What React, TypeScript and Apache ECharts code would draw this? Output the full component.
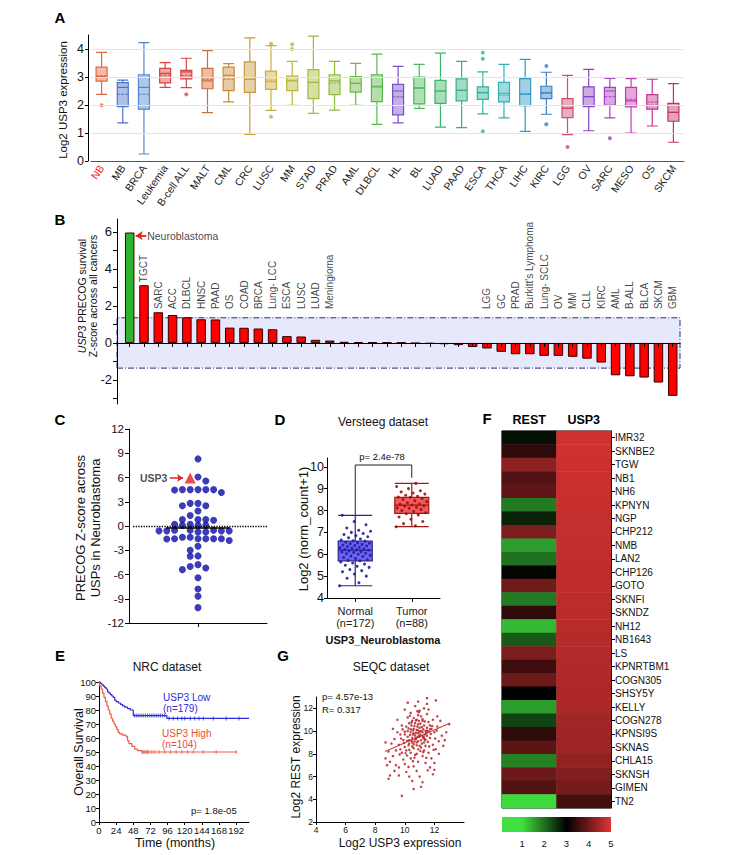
import React, { useEffect, useRef } from 'react';
import * as echarts from 'echarts';

const FONT = '"Liberation Sans", Arial, Helvetica, sans-serif';

// ---------------- Panel A : USP3 expression across cancers ----------------
const aCategories = ['NB', 'MB', 'BRCA', 'Leukemia', 'B-cell ALL', 'MALT', 'CML', 'CRC', 'LUSC', 'MM', 'STAD', 'PRAD', 'AML', 'DLBCL', 'HL', 'BL', 'LUAD', 'PAAD', 'ESCA', 'THCA', 'LIHC', 'KIRC', 'LGG', 'OV', 'SARC', 'MESO', 'OS', 'SKCM'];
// [min, Q1, median, Q3, max]
const aBoxes = [
  [2.38, 2.85, 3.01, 3.35, 3.88], [1.36, 1.94, 2.63, 2.8, 2.89], [0.25, 1.85, 2.63, 3.08, 4.23],
  [2.63, 2.79, 3.13, 3.31, 3.51], [2.62, 2.93, 3.18, 3.24, 3.67], [1.73, 2.58, 2.86, 3.31, 3.94],
  [2.11, 2.51, 3.06, 3.35, 3.48], [0.95, 2.45, 2.92, 3.54, 4.4], [1.81, 2.56, 2.83, 3.21, 4.12],
  [1.99, 2.51, 2.86, 3.03, 3.56], [1.7, 2.23, 2.81, 3.26, 4.46], [1.82, 2.37, 2.86, 3.08, 3.56],
  [1.99, 2.46, 2.77, 3.01, 3.49], [1.31, 2.12, 2.65, 3.08, 3.82], [1.36, 1.65, 2.5, 2.74, 3.38],
  [1.88, 2.04, 2.6, 3.0, 3.45], [1.21, 2.06, 2.5, 2.88, 3.85], [1.19, 2.15, 2.52, 2.93, 3.56],
  [1.68, 2.2, 2.43, 2.65, 3.18], [1.54, 2.11, 2.42, 2.81, 3.45], [1.06, 1.98, 2.39, 2.94, 3.63],
  [1.67, 2.23, 2.43, 2.67, 3.17], [0.94, 1.55, 1.88, 2.23, 3.06], [1.08, 1.94, 2.3, 2.65, 3.27],
  [1.54, 1.99, 2.5, 2.63, 2.95], [1.0, 1.93, 2.15, 2.63, 2.94], [1.25, 1.85, 1.99, 2.37, 2.92],
  [0.67, 1.42, 1.74, 2.06, 2.76],
];
const aMeans = [3.05, 2.38, 2.38, 3.07, 3.06, 2.92, 2.92, 2.92, 2.89, 2.88, 2.81, 2.78, 2.77, 2.67, 2.29, 2.62, 2.5, 2.52, 2.45, 2.35, 2.4, 2.43, 1.9, 2.3, 2.3, 2.2, 2.1, 1.74];
const aOutliers = [[0, 1.99], [4, 2.38], [8, 4.19], [8, 1.58], [9, 4.17], [9, 4.0], [18, 3.87], [18, 3.65], [18, 1.06], [21, 3.39], [21, 1.31], [22, 0.5], [24, 0.81]];
const aColors = ['#e2673f', '#4d73c9', '#4f86cf', '#d9443f', '#d64545', '#cf6f35', '#c88938', '#c99a3a', '#c8ae3c', '#b9b534', '#a9b93a', '#8fba3e', '#6cb840', '#58b84a', '#7a4fc7', '#4cb85a', '#3fb36b', '#35b083', '#31b39b', '#2fb0b5', '#3399c4', '#3b7fc0', '#cc4f72', '#8a44c4', '#a640c4', '#c13eb0', '#c23592', '#c23460'];
const aYTicks = [0, 1, 2, 3, 4];

// ---------------- Panel B : PRECOG z-scores ----------------
const bCancers = ['Neuroblastoma', 'TGCT', 'SARC', 'ACC', 'DLBCL', 'HNSC', 'PAAD', 'OS', 'COAD', 'BRCA', 'Lung- LCC', 'ESCA', 'LUSC', 'LUAD', 'Meningioma', '', '', '', '', '', '', '', '', '', '', 'LGG', 'GC', 'PRAD', "Burkitt's Lymphoma", 'Lung- SCLC', 'OV', 'MM', 'CLL', 'KIRC', 'AML', 'B-ALL', 'BLCA', 'SKCM', 'GBM'];
const bZ = [5.97, 3.12, 1.66, 1.51, 1.39, 1.28, 1.27, 0.83, 0.82, 0.78, 0.74, 0.37, 0.35, 0.17, 0.13, 0.06, 0.05, 0.04, 0.03, 0.02, -0.02, -0.04, -0.07, -0.12, -0.22, -0.3, -0.48, -0.61, -0.61, -0.7, -0.7, -0.75, -0.85, -1.06, -1.75, -1.8, -1.87, -2.14, -2.86];
const bBand = 1.36;
const bYTicks = [-2, 0, 2, 4, 6];
const bYMinor = [-3, -2, -1, 0, 1, 2, 3, 4, 5, 6];

// ---------------- Panel C : USP z-scores in neuroblastoma ----------------
const cUspZ = [8.3, 6.06, 5.57, 4.5, 4.45, 4.15, 4.5, 4.5, 4.5, 4.5, 2.8, 2.8, 2.5, 2.5, 1.86, 1.3, 0.79, 0.7, 0.79, 0.79, 0.2, 0.2, 0.08, 0.08, 0.08, -0.53, -0.53, -0.53, -0.74, -0.74, -0.6, -0.6, -0.6, -0.6, -1.57, -1.57, -1.57, -1.57, -1.57, -1.8, -1.4, -1.4, -1.6, -2.5, -3.0, -3.75, -3.7, -4.78, -5.4, -5.2, -5.0, -6.4, -7.8, -8.7, -10.1];
const cUsp3Z = 5.95;
const cMedian = -0.25;

// ---------------- Panel D : Versteeg dataset ----------------
const dGroups = ['Normal\n(n=172)', 'Tumor\n(n=88)'];
const dBoxes = [[4.56, 5.7, 6.19, 6.6, 7.78], [7.26, 7.87, 8.25, 8.6, 9.24]];
const dNormal = [4.56, 4.7, 4.9, 5.0, 5.1, 5.2, 5.25, 5.3, 5.4, 5.45, 5.5, 5.55, 5.6, 5.65, 5.7, 5.72, 5.75, 5.8, 5.85, 5.9, 5.92, 5.95, 6.0, 6.02, 6.05, 6.08, 6.1, 6.12, 6.15, 6.18, 6.2, 6.22, 6.25, 6.28, 6.3, 6.32, 6.35, 6.38, 6.4, 6.42, 6.45, 6.48, 6.5, 6.52, 6.55, 6.6, 6.62, 6.65, 6.7, 6.75, 6.8, 6.85, 6.9, 6.95, 7.0, 7.05, 7.1, 7.2, 7.35, 7.5, 7.78];
const dTumor = [7.26, 7.3, 7.4, 7.5, 7.6, 7.7, 7.8, 7.85, 7.9, 7.95, 8.0, 8.05, 8.1, 8.12, 8.15, 8.2, 8.22, 8.25, 8.28, 8.3, 8.35, 8.4, 8.45, 8.5, 8.55, 8.6, 8.62, 8.65, 8.7, 8.75, 8.8, 8.85, 8.9, 9.0, 9.1, 9.24];
const dBracket = [[0, 7.8], [0, 10.08], [1, 10.08], [1, 9.5]];
const dYTicks = [4, 5, 6, 7, 8, 9, 10];

// ---------------- Panel E : NRC survival ----------------
const eLow = [[0, 100], [2, 99], [4, 98], [6, 97], [8, 96], [10, 95], [12, 93], [14, 92], [16, 91], [18, 90], [20, 89], [22, 87], [24, 86], [27, 85], [30, 84], [33, 83], [36, 82], [40, 81], [44, 80], [48, 76], [95, 74], [210, 74]];
const eHigh = [[0, 100], [1, 97], [3, 95], [5, 92], [7, 89], [9, 86], [11, 83], [13, 80], [15, 77], [17, 74], [19, 72], [21, 70], [23, 68], [25, 66], [27, 64], [29, 63], [33, 62], [38, 61], [40, 58], [42, 56], [46, 54], [50, 52], [54, 51], [60, 50], [193, 50]];
const eLowCensor = [50, 53, 56, 59, 62, 65, 68, 71, 74, 77, 80, 83, 86, 89, 92, 98, 104, 110, 116, 120, 128, 134, 140, 146, 160, 178, 196];
const eHighCensor = [60, 62, 64, 66, 68, 70, 74, 78, 84, 92, 100, 108, 116, 124, 132, 146, 164, 192];
const eXTicks = [0, 24, 48, 72, 96, 120, 144, 168, 192];

// ---------------- Panel G : SEQC correlation ----------------
const gPoints = [
  [10.8, 10.1], [10.9, 9.8], [11.0, 10.3], [10.7, 9.6], [11.2, 9.9], [10.5, 9.4], [11.3, 10.5], [10.6, 10.2], [11.1, 9.2], [10.4, 9.9],
  [10.9, 10.6], [11.4, 10.0], [10.3, 8.9], [11.0, 8.7], [10.6, 8.5], [11.5, 9.6], [10.2, 9.5], [10.8, 11.0], [11.6, 10.8], [10.1, 10.4],
  [11.3, 8.3], [10.7, 7.9], [10.0, 8.6], [11.7, 9.4], [10.5, 10.9], [11.1, 11.3], [10.4, 7.6], [11.8, 10.2], [9.9, 9.2], [10.3, 10.7],
  [11.9, 8.8], [10.9, 7.3], [9.8, 8.1], [11.5, 11.5], [10.2, 11.2], [12.0, 9.9], [9.7, 9.7], [11.2, 7.8], [10.6, 6.9], [11.6, 8.1],
  [9.6, 8.8], [12.2, 10.4], [10.0, 7.1], [11.0, 11.8], [9.5, 9.9], [11.4, 7.2], [10.8, 6.5], [12.1, 8.4], [9.4, 8.3], [10.4, 11.6],
  [11.8, 7.6], [9.3, 9.3], [10.1, 6.4], [12.3, 9.1], [9.9, 7.5], [11.3, 12.0], [10.7, 12.2], [9.2, 7.8], [11.0, 6.0], [12.4, 10.9],
  [9.1, 8.9], [10.3, 6.0], [11.7, 6.8], [9.0, 7.3], [12.5, 9.6], [9.6, 6.8], [10.5, 5.6], [11.5, 12.4], [8.9, 8.2], [12.0, 7.2],
  [9.8, 10.5], [10.9, 12.6], [9.3, 6.5], [12.6, 8.7], [8.8, 7.0], [11.2, 5.5], [10.2, 12.5], [12.2, 11.3], [9.5, 11.0], [8.7, 7.6],
  [11.9, 6.2], [9.2, 10.2], [12.8, 9.9], [9.0, 6.1], [10.6, 4.9], [12.7, 9.2], [8.9, 5.8], [9.8, 4.3], [11.1, 5.1], [11.5, 12.9],
  [12.1, 12.7], [12.0, 6.6], [9.6, 6.1], [8.7, 9.0], [13.0, 10.6], [10.0, 11.9], [11.6, 11.9], [9.4, 7.0], [10.8, 8.0], [11.3, 9.0],
  [10.5, 9.0], [10.1, 8.3], [11.7, 10.5], [10.9, 8.4], [11.4, 8.7], [10.2, 10.0], [10.7, 10.7], [11.2, 10.9], [10.4, 8.1], [11.0, 9.5],
  [10.6, 9.8], [11.1, 10.0], [10.3, 9.2], [11.5, 10.3], [10.8, 9.0], [10.0, 9.7], [11.9, 11.0], [10.9, 11.4], [9.7, 8.4], [12.3, 8.0],
  [10.75, 9.3], [11.05, 9.7], [10.45, 10.5], [11.25, 9.4], [10.65, 9.1], [10.95, 10.9], [11.35, 9.7], [10.55, 9.7], [11.15, 8.9], [10.85, 10.4],
  [10.35, 9.65], [10.65, 10.45], [10.95, 9.55], [11.25, 10.15], [10.45, 9.15], [10.75, 9.85], [11.05, 10.65], [11.35, 9.25], [10.55, 10.05], [10.85, 9.45],
  [11.15, 10.35], [11.45, 9.85], [10.25, 10.25], [10.6, 8.85], [10.9, 9.1], [11.2, 9.55], [11.5, 10.05], [10.4, 10.15], [10.7, 9.35], [11.0, 9.95],
  [11.3, 9.45], [11.6, 9.95], [10.15, 9.15], [10.5, 8.65], [10.8, 8.75], [11.1, 8.55], [11.4, 9.25], [11.7, 10.15], [10.3, 8.35], [10.6, 11.15],
  [10.9, 10.05], [11.2, 11.05], [10.0, 9.95], [11.55, 9.05], [10.75, 10.95], [11.05, 8.25], [10.45, 10.75], [11.35, 10.85], [10.25, 8.75], [11.65, 8.65],
  [10.95, 11.65], [10.55, 7.35], [11.45, 7.65], [10.15, 7.85], [11.75, 9.75], [9.95, 8.95], [12.05, 9.35], [10.35, 11.35], [11.85, 10.45], [9.85, 10.15],
  [10.65, 7.65], [11.25, 8.15], [10.05, 8.05], [11.95, 8.35], [10.85, 11.75], [9.75, 9.35], [12.15, 10.05], [10.25, 6.85], [11.55, 6.55], [9.65, 7.95],
];
const gFit = [[8.66, 8.2], [13.05, 10.7]];
const gXTicks = [4, 6, 8, 10, 12];
const gYTicks = [2, 4, 6, 8, 10, 12];

// ---------------- Panel F : heatmap ----------------
const fColumns = ['REST', 'USP3'];
const fLines = ['IMR32', 'SKNBE2', 'TGW', 'NB1', 'NH6', 'KPNYN', 'NGP', 'CHP212', 'NMB', 'LAN2', 'CHP126', 'GOTO', 'SKNFI', 'SKNDZ', 'NH12', 'NB1643', 'LS', 'KPNRTBM1', 'COGN305', 'SHSY5Y', 'KELLY', 'COGN278', 'KPNSI9S', 'SKNAS', 'CHLA15', 'SKNSH', 'GIMEN', 'TN2'];
const fRest = [2.85, 3.4, 4.25, 3.7, 3.85, 1.9, 2.7, 4.1, 1.6, 2.0, 2.95, 4.0, 1.9, 3.4, 1.35, 2.2, 4.1, 3.55, 3.95, 3.0, 1.6, 2.4, 3.4, 3.8, 1.85, 3.95, 3.7, 1.05];
const fUsp3 = [4.85, 4.85, 4.82, 4.8, 4.8, 4.78, 4.76, 4.75, 4.74, 4.72, 4.7, 4.7, 4.68, 4.66, 4.65, 4.63, 4.6, 4.58, 4.56, 4.55, 4.52, 4.45, 4.42, 4.38, 4.3, 4.15, 4.05, 3.6];
const fScaleTicks = [1, 2, 3, 4, 5];
const heatColors = ['#3fe03f', '#2fa82f', '#1f701f', '#0f380f', '#000000', '#3a0c0c', '#701a1a', '#a82727', '#e03434'];

// ---------------- helpers ----------------
function rgba(hex: string, a: number) {
  const n = parseInt(hex.slice(1), 16);
  return `rgba(${(n >> 16) & 255},${(n >> 8) & 255},${n & 255},${a})`;
}
function swarmCols(values: number[], pxPerUnit: number, diam: number) {
  const order = values.map((_, i) => i).sort((a, b) => values[b] - values[a]);
  const placed: { col: number; y: number }[] = [];
  const cols = new Array(values.length).fill(0);
  for (const i of order) {
    const y = values[i] * pxPerUnit;
    for (let k = 0; k < 200; k++) {
      const col = k === 0 ? 0 : k % 2 === 1 ? -(k + 1) / 2 : k / 2;
      if (!placed.some((p) => p.col === col && Math.abs(p.y - y) < diam)) {
        placed.push({ col, y });
        cols[i] = col;
        break;
      }
    }
  }
  return cols;
}
function survAt(curve: number[][], t: number) {
  let s = curve[0][1];
  for (const p of curve) if (p[0] <= t) s = p[1];
  return s;
}
const line = (onZero = false, color = '#000') => ({ show: true, onZero, lineStyle: { color, width: 1 } });
const tick = (len: number, vals?: number[]) => ({ show: true, length: len, lineStyle: { color: '#000', width: 1 }, ...(vals ? { customValues: vals } : {}) });
const lab = (size: number, extra: any = {}) => ({ show: true, fontSize: size, color: '#111', fontFamily: FONT, ...extra });
const txt = (x: number, y: number, text: string, size: number, extra: any = {}, rotation = 0) => ({
  type: 'text', x, y, rotation, silent: true,
  style: { text, fontSize: size, fontFamily: FONT, fill: '#111', align: 'center', verticalAlign: 'middle', ...extra },
});

function buildOption() {
  const grids = [
    { left: 91, top: 35, width: 593, height: 126 },
    { left: 117, top: 219, width: 563, height: 185 },
    { left: 129, top: 429, width: 138, height: 194 },
    { left: 327, top: 458, width: 113, height: 140 },
    { left: 99, top: 682, width: 150, height: 140 },
    { left: 316, top: 697, width: 148, height: 125 },
    { left: 502, top: 431, width: 109, height: 377, show: true, borderColor: '#000', borderWidth: 1 },
  ].map((g) => ({ containLabel: false, outerBoundsMode: 'none', ...g }));

  const bStep = 14.29;
  const bXMin = -(129.7 - 117) / bStep;
  const bXMax = bXMin + 563 / bStep;
  const bIdx = bZ.map((_, i) => i);

  const cAll = [...cUspZ, cUsp3Z];
  const cColsArr = swarmCols(cAll, 194 / 24, 5.6);
  const colStep = 7.8 / 138;
  const cPos = cAll.map((v, i) => [0.5 + cColsArr[i] * colStep, v]);
  const usp3Pos = cPos[cPos.length - 1];
  const cDots = cPos.slice(0, cPos.length - 1);

  const jit = (vals: number[], center: number) => vals.map((v, i) => [center + (((i * 0.618034) % 1) - 0.5) * 0.55, v]);

  const xAxis: any[] = [
    { gridIndex: 0, type: 'category', data: aCategories, boundaryGap: true, axisLine: line(false, '#555'), axisTick: { show: false }, axisLabel: lab(10.5, { interval: 0, rotate: 55, margin: 5, color: (v: string) => (v === 'NB' ? '#ee2a1b' : '#222') }), splitLine: { show: false } },
    { gridIndex: 1, type: 'value', min: bXMin, max: bXMax, z: 10, axisLine: line(true), axisTick: tick(4, bIdx), axisLabel: { show: false }, splitLine: { show: false } },
    { gridIndex: 2, type: 'value', min: 0, max: 1, axisLine: line(), axisTick: tick(4, [0.5]), axisLabel: { show: false }, splitLine: { show: false } },
    { gridIndex: 3, type: 'category', data: dGroups, boundaryGap: true, axisLine: line(), axisTick: { show: true, alignWithLabel: true, length: 4, lineStyle: { color: '#000' } }, axisLabel: lab(11, { margin: 7, lineHeight: 12, color: '#222' }), splitLine: { show: false } },
    { gridIndex: 3, type: 'value', min: -0.5, max: 1.5, show: false, position: 'top' },
    { gridIndex: 4, type: 'value', min: 0, max: 210, axisLine: line(), axisTick: tick(3, eXTicks), axisLabel: lab(9.5, { customValues: eXTicks, margin: 3 }), splitLine: { show: false } },
    { gridIndex: 5, type: 'value', min: 4, max: 14, axisLine: line(), axisTick: tick(3, gXTicks), axisLabel: lab(8.5, { customValues: gXTicks, margin: 3 }), splitLine: { show: false } },
    { gridIndex: 6, type: 'category', data: fColumns, position: 'top', boundaryGap: true, axisLine: line(), axisTick: { show: false }, axisLabel: lab(12.5, { fontWeight: 'bold', margin: 5, color: '#000' }), splitLine: { show: false } },
  ];
  const yAxis: any[] = [
    { gridIndex: 0, type: 'value', min: 0, max: 4.5, offset: 3, axisLine: line(), axisTick: tick(3, aYTicks), axisLabel: lab(12.5, { customValues: aYTicks, margin: 4 }), splitLine: { show: false } },
    { gridIndex: 1, type: 'value', min: -3.3, max: 6.7, z: 10, axisLine: line(), axisTick: tick(4, bYMinor), axisLabel: lab(13, { customValues: bYTicks, margin: 5 }), splitLine: { show: false } },
    { gridIndex: 2, type: 'value', min: -12, max: 12, interval: 3, axisLine: line(), axisTick: tick(4), axisLabel: lab(11.5, { margin: 5 }), splitLine: { show: false } },
    { gridIndex: 3, type: 'value', min: 4, max: 10.4, axisLine: line(), axisTick: tick(3, dYTicks), axisLabel: lab(12.5, { customValues: dYTicks, margin: 3 }), splitLine: { show: false } },
    { gridIndex: 4, type: 'value', min: 0, max: 100, interval: 10, axisLine: line(), axisTick: tick(3), axisLabel: lab(9.5, { margin: 3 }), splitLine: { show: false } },
    { gridIndex: 5, type: 'value', min: 2, max: 13, axisLine: line(), axisTick: tick(3, gYTicks), axisLabel: lab(8.5, { customValues: gYTicks, margin: 3 }), splitLine: { show: false } },
    { gridIndex: 6, type: 'category', data: fLines, inverse: true, position: 'right', boundaryGap: true, axisLine: line(), axisTick: { show: true, length: 4, alignWithLabel: true, lineStyle: { color: '#000' } }, axisLabel: lab(10, { interval: 0, margin: 4 }), splitLine: { show: false } },
  ];

  const red = '#e8201c';
  const series: any[] = [
    { type: 'scatter', xAxisIndex: 0, yAxisIndex: 0, data: [[0, 0]], symbolSize: 0, silent: true, z: 1,
      markLine: { silent: true, symbol: 'none', label: { show: false }, lineStyle: { color: '#e4e4e4', width: 1, type: 'solid' }, data: aYTicks.filter((v) => v > 0).map((v) => ({ yAxis: v })) } },
    { type: 'boxplot', xAxisIndex: 0, yAxisIndex: 0, boxWidth: [11, 11], z: 3,
      data: aBoxes.map((b, i) => ({ value: b, itemStyle: { color: rgba(aColors[i], 0.45), borderColor: aColors[i], borderWidth: 1.2 } })) },
    { type: 'scatter', xAxisIndex: 0, yAxisIndex: 0, z: 4, silent: true, symbol: 'path://M0,0h3v1h-3zM4.5,0h3v1h-3zM9,0h3v1h-3z', symbolSize: [10, 1.3],
      data: aMeans.map((m, i) => ({ value: [i, m], itemStyle: { color: aColors[i] } })) },
    { type: 'scatter', xAxisIndex: 0, yAxisIndex: 0, z: 4, symbolSize: 4,
      data: aOutliers.map(([i, v]) => ({ value: [i, v], itemStyle: { color: aColors[i] } })) },

    { type: 'scatter', xAxisIndex: 1, yAxisIndex: 1, data: [[0, 0]], symbolSize: 0, silent: true, z: 1,
      markArea: { silent: true, itemStyle: { color: '#e6e8fb', borderColor: '#24326e', borderWidth: 1, borderType: [6, 2, 1, 2] }, data: [[{ yAxis: -bBand }, { yAxis: bBand }]] } },
    { type: 'bar', xAxisIndex: 1, yAxisIndex: 1, barWidth: 9.5, z: 3,
      data: bZ.map((v, i) => ({ value: [i, v], itemStyle: { color: i === 0 ? '#2cb52c' : '#ff0000', borderColor: '#3a0000', borderWidth: 1 } })) },
    { type: 'scatter', xAxisIndex: 1, yAxisIndex: 1, symbolSize: 0, silent: true, z: 4,
      label: { show: true, position: 'top', distance: 3, rotate: 90, align: 'left', verticalAlign: 'middle', fontSize: 10, color: '#111', fontFamily: FONT, formatter: '{b}' },
      data: bZ.map((v, i) => ({ name: bCancers[i], value: [i, Math.max(v, 1.67)] })).filter((d, i) => i > 0 && d.name !== '') },
    { type: 'scatter', xAxisIndex: 1, yAxisIndex: 1, symbolSize: 0, silent: true, z: 4,
      label: { show: true, position: 'right', distance: 0, fontSize: 10.5, color: '#111', fontFamily: FONT, formatter: bCancers[0] },
      data: [[1.22, bZ[0] - 0.17]],
      markLine: { silent: true, symbol: ['none', 'arrow'], symbolSize: 7, label: { show: false }, lineStyle: { color: red, width: 1.8, type: 'solid' },
        data: [[{ coord: [1.16, bZ[0] - 0.17] }, { coord: [0.42, bZ[0] - 0.17] }]] } },

    { type: 'scatter', xAxisIndex: 2, yAxisIndex: 2, symbolSize: 7, itemStyle: { color: '#0b0ba6' }, z: 3, data: cDots,
      markLine: { silent: true, symbol: 'none', label: { show: false },
        data: [
          [{ coord: [0.03, 0], lineStyle: { type: 'dotted', color: '#000', width: 1.3 } }, { coord: [1, 0] }],
          [{ coord: [0.27, cMedian], lineStyle: { type: 'solid', color: '#000', width: 1.6 } }, { coord: [0.73, cMedian] }],
        ] } },
    { type: 'scatter', xAxisIndex: 2, yAxisIndex: 2, symbol: 'triangle', symbolSize: 11, itemStyle: { color: red }, z: 5, data: [usp3Pos] },
    { type: 'scatter', xAxisIndex: 2, yAxisIndex: 2, symbolSize: 0, silent: true, z: 5,
      label: { show: true, position: 'left', distance: 0, formatter: 'USP3', fontWeight: 'bold', fontSize: 10.5, color: '#222', fontFamily: FONT },
      data: [[usp3Pos[0] - 0.165, cUsp3Z]],
      markLine: { silent: true, symbol: ['none', 'arrow'], symbolSize: 6, label: { show: false }, lineStyle: { color: red, width: 1.5, type: 'solid' },
        data: [[{ coord: [usp3Pos[0] - 0.148, cUsp3Z] }, { coord: [usp3Pos[0] - 0.052, cUsp3Z] }]] } },

    { type: 'boxplot', xAxisIndex: 3, yAxisIndex: 3, boxWidth: [34, 34], z: 2,
      data: [
        { value: dBoxes[0], itemStyle: { color: '#6d63f4', borderColor: '#2b2394', borderWidth: 1.2 } },
        { value: dBoxes[1], itemStyle: { color: '#f35a5a', borderColor: '#9c1c1c', borderWidth: 1.2 } },
      ] },
    { type: 'scatter', xAxisIndex: 4, yAxisIndex: 3, symbolSize: 3, z: 4, itemStyle: { color: '#1e1e9a', opacity: 0.9 }, data: jit(dNormal, 0) },
    { type: 'scatter', xAxisIndex: 4, yAxisIndex: 3, symbolSize: 3, z: 4, itemStyle: { color: '#a01010', opacity: 0.9 }, data: jit(dTumor, 1) },
    { type: 'line', xAxisIndex: 4, yAxisIndex: 3, symbol: 'none', silent: true, z: 4, lineStyle: { color: '#222', width: 1 }, data: dBracket },

    { type: 'line', xAxisIndex: 5, yAxisIndex: 4, step: 'end', symbol: 'none', z: 3, lineStyle: { color: '#2b2bd9', width: 1.2 }, data: eLow },
    { type: 'line', xAxisIndex: 5, yAxisIndex: 4, step: 'end', symbol: 'none', z: 3, lineStyle: { color: '#ef5a45', width: 1.2 }, data: eHigh },
    { type: 'scatter', xAxisIndex: 5, yAxisIndex: 4, symbol: 'rect', symbolSize: [1, 4], z: 4, itemStyle: { color: '#2b2bd9' }, data: eLowCensor.map((t) => [t, survAt(eLow, t)]) },
    { type: 'scatter', xAxisIndex: 5, yAxisIndex: 4, symbol: 'rect', symbolSize: [1, 4], z: 4, itemStyle: { color: '#ef5a45' }, data: eHighCensor.map((t) => [t, survAt(eHigh, t)]) },

    { type: 'scatter', xAxisIndex: 6, yAxisIndex: 5, symbolSize: 2.5, z: 3, itemStyle: { color: '#b3141a' }, data: gPoints },
    { type: 'line', xAxisIndex: 6, yAxisIndex: 5, symbol: 'none', z: 4, silent: true, lineStyle: { color: '#c0282c', width: 1 }, data: gFit },

    { type: 'heatmap', xAxisIndex: 7, yAxisIndex: 6, z: 2, itemStyle: { borderWidth: 0 }, emphasis: { disabled: true },
      data: fLines.flatMap((_, i) => [[0, i, fRest[i]], [1, i, fUsp3[i]]]) },
  ];
  const heatIndex = series.length - 1;

  const cbX = 502, cbY = 817, cbW = 109, cbH = 15, cbMin = 0.1, cbMax = 5;
  const cbPos = (v: number) => (v - cbMin) / (cbMax - cbMin);
  const stops = [{ offset: 0, color: heatColors[0] }, ...heatColors.map((c, j) => ({ offset: cbPos(1 + j * 0.5), color: c }))];

  const graphic: any[] = [
    txt(60, 17, 'A', 15, { fontWeight: 'bold', fill: '#000' }),
    txt(60, 219, 'B', 15, { fontWeight: 'bold', fill: '#000' }),
    txt(60, 419, 'C', 15, { fontWeight: 'bold', fill: '#000' }),
    txt(280, 419, 'D', 15, { fontWeight: 'bold', fill: '#000' }),
    txt(60, 655, 'E', 15, { fontWeight: 'bold', fill: '#000' }),
    txt(487, 418, 'F', 15, { fontWeight: 'bold', fill: '#000' }),
    txt(283, 655, 'G', 15, { fontWeight: 'bold', fill: '#000' }),
    txt(63, 100, 'Log2 USP3 expression', 11.5, {}, Math.PI / 2),
    {
      type: 'text', x: 87, y: 296, rotation: Math.PI / 2, silent: true,
      style: {
        text: '{i|USP3} PRECOG survival\nZ-score across all cancers', fontSize: 10.5, lineHeight: 11, fontFamily: FONT, fill: '#111', align: 'center', verticalAlign: 'middle',
        rich: { i: { fontStyle: 'italic', fontSize: 10.5, lineHeight: 11, fontFamily: FONT, fill: '#111' } },
      },
    },
    txt(87.5, 528, 'PRECOG Z-score across\nUSPs in Neuroblastoma', 13, { lineHeight: 15 }, Math.PI / 2),
    txt(383, 422, 'Versteeg dataset', 12),
    txt(382, 456, 'p= 2.4e-78', 9.5),
    txt(383, 640, 'USP3_Neuroblastoma', 11, { fontWeight: 'bold' }),
    txt(303, 529, 'Log2 (norm_count+1)', 13, {}, Math.PI / 2),
    txt(167, 667, 'NRC dataset', 12),
    txt(79, 752, 'Overall Survival', 12.5, {}, Math.PI / 2),
    txt(175, 843, 'Time (months)', 12.5),
    txt(163, 697, 'USP3 Low', 10, { align: 'left', fill: '#2b2bd9' }),
    txt(163, 708.5, '(n=179)', 10, { align: 'left', fill: '#2b2bd9' }),
    txt(162, 733, 'USP3 High', 10, { align: 'left', fill: '#ef4a35' }),
    txt(162, 744.5, '(n=104)', 10, { align: 'left', fill: '#ef4a35' }),
    txt(191, 810, 'p= 1.8e-05', 9.5, { align: 'left' }),
    txt(391, 667, 'SEQC dataset', 12),
    txt(296, 757, 'Log2 REST expression', 12, {}, Math.PI / 2),
    txt(400, 843, 'Log2 USP3 expression', 12),
    txt(322, 696, 'p= 4.57e-13', 9.5, { align: 'left' }),
    txt(322, 709, 'R= 0.317', 9.5, { align: 'left' }),
    {
      type: 'rect', silent: true, shape: { x: cbX, y: cbY, width: cbW, height: cbH },
      style: { fill: new echarts.graphic.LinearGradient(0, 0, 1, 0, stops) },
    },
    ...fScaleTicks.map((v) => txt(cbX + cbPos(v) * cbW, 843, String(v), 9.5)),
  ];

  return {
    animation: false,
    backgroundColor: '#fff',
    textStyle: { fontFamily: FONT },
    grid: grids,
    xAxis,
    yAxis,
    visualMap: [{ type: 'continuous', show: false, min: 1, max: 5, dimension: 2, seriesIndex: heatIndex, inRange: { color: heatColors } }],
    series,
    graphic: { elements: graphic },
  };
}

export default function App() {
  const ref = useRef<HTMLDivElement>(null);
  useEffect(() => {
    if (!ref.current) return;
    const chart = echarts.init(ref.current, null, { renderer: 'svg' });
    chart.setOption(buildOption() as any);
    return () => chart.dispose();
  }, []);
  return <div ref={ref} style={{ position: 'absolute', left: 0, top: 0, width: 744, height: 855, background: '#fff' }} />;
}
